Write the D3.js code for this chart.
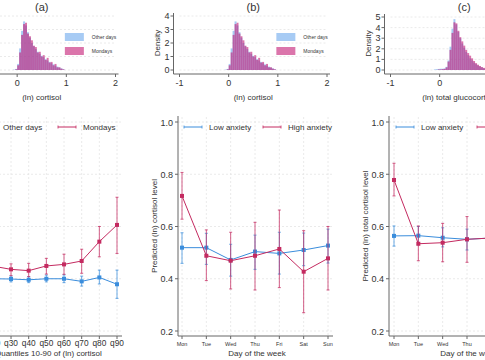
<html>
<head>
<script src="https://d3js.org/d3.v7.min.js"></script>
<style>
  body { margin: 0; background: #fff; }
  text { font-family: "Liberation Sans", Arial, sans-serif; fill: #333; }
  .grid { stroke: #e4e4e4; stroke-width: 0.8; stroke-dasharray: 2,2; }
  .axisline { stroke: #666; stroke-width: 1; }
</style>
</head>
<body>
<svg id="chart" width="485" height="360"></svg>
<script>
// ---- histogram data (bin centres, densities) ----
const cortBins = [-0.06, -0.02, 0.02, 0.06, 0.10, 0.14, 0.18, 0.22, 0.26, 0.30, 0.34, 0.38, 0.42,
                  0.46, 0.50, 0.54, 0.58, 0.62, 0.66, 0.70, 0.74, 0.78, 0.82, 0.86, 0.90, 0.94];
const cortOther = [0.03, 0.08, 0.45, 1.6, 2.9, 3.6, 3.3, 2.8, 2.4, 2.0, 1.75, 1.55, 1.35,
                   1.2, 1.05, 0.95, 0.8, 0.7, 0.6, 0.5, 0.42, 0.32, 0.25, 0.18, 0.12, 0.06];
const cortMon = [0.0, 0.05, 0.35, 1.3, 2.6, 3.4, 3.5, 2.7, 2.5, 2.2, 1.8, 1.7, 1.3,
                 1.35, 1.0, 1.1, 0.75, 0.9, 0.55, 0.6, 0.35, 0.45, 0.2, 0.2, 0.1, 0.05];

const glucBins = [-0.10, -0.06, -0.02, 0.02, 0.06, 0.10, 0.14, 0.18, 0.22, 0.26, 0.30, 0.34, 0.38, 0.42,
                  0.46, 0.50, 0.54, 0.58, 0.62, 0.66, 0.70, 0.74, 0.78, 0.82, 0.86, 0.90, 0.94, 0.98];
const glucOther = [0.05, 0.08, 0.1, 0.12, 0.12, 0.15, 0.3, 0.9, 2.2, 3.9, 4.8, 4.3, 3.6, 3.0,
                   2.5, 2.1, 1.7, 1.4, 1.1, 0.9, 0.7, 0.55, 0.42, 0.32, 0.24, 0.16, 0.1, 0.06];
const glucMon = [0, 0, 0.05, 0.05, 0.08, 0.1, 0.25, 0.8, 1.9, 3.5, 4.5, 4.4, 3.7, 3.1,
                 2.7, 2.3, 1.9, 1.6, 1.35, 1.1, 0.85, 0.65, 0.5, 0.38, 0.28, 0.2, 0.12, 0.07];

// ---- panel (a): quantile estimates ----
const quantiles = ['q10', 'q20', 'q30', 'q40', 'q50', 'q60', 'q70', 'q80', 'q90'];
const aOther   = [0.40, 0.40, 0.399, 0.396, 0.40, 0.40, 0.39, 0.405, 0.379];
const aOtherLo = [0.39, 0.388, 0.388, 0.385, 0.388, 0.385, 0.372, 0.38, 0.325];
const aOtherHi = [0.41, 0.412, 0.41, 0.408, 0.414, 0.415, 0.41, 0.433, 0.433];
const aMon     = [0.46, 0.448, 0.436, 0.431, 0.449, 0.455, 0.468, 0.542, 0.606];
const aMonLo   = [0.43, 0.42, 0.412, 0.408, 0.418, 0.417, 0.421, 0.484, 0.497];
const aMonHi   = [0.49, 0.475, 0.457, 0.459, 0.478, 0.494, 0.513, 0.60, 0.712];

// ---- panels (b) and (c): day of the week ----
const days = ['Mon', 'Tue', 'Wed', 'Thu', 'Fri', 'Sat', 'Sun'];
const bLow    = [0.519, 0.519, 0.472, 0.504, 0.497, 0.51, 0.527];
const bLowLo  = [0.459, 0.455, 0.41, 0.436, 0.418, 0.45, 0.46];
const bLowHi  = [0.576, 0.574, 0.532, 0.567, 0.578, 0.575, 0.59];
const bHigh   = [0.717, 0.488, 0.469, 0.488, 0.514, 0.427, 0.478];
const bHighLo = [0.628, 0.393, 0.361, 0.357, 0.366, 0.27, 0.357];
const bHighHi = [0.807, 0.587, 0.578, 0.616, 0.663, 0.584, 0.60];

const cLow    = [0.564, 0.565, 0.557, 0.551, 0.556, 0.55, 0.555];
const cLowLo  = [0.525, 0.53, 0.522, 0.51, 0.515, 0.51, 0.515];
const cLowHi  = [0.602, 0.60, 0.595, 0.59, 0.597, 0.59, 0.595];
const cHigh   = [0.778, 0.534, 0.538, 0.551, 0.556, 0.52, 0.54];
const cHighLo = [0.717, 0.469, 0.465, 0.463, 0.47, 0.42, 0.45];
const cHighHi = [0.842, 0.602, 0.612, 0.638, 0.64, 0.62, 0.63];

const lineTicks = [0.2, 0.4, 0.6, 0.8, 1.0];

const blue = '#3a8ddc';
const red = '#c42a60';
const histBlue = 'rgba(95,160,235,0.55)';
const histPink = 'rgba(195,25,115,0.6)';

const svg = d3.select('#chart');

// ---------- histograms ----------
function drawHist(xRange, yMax, yRange, bins, other, mon, title, xLabel, showLegend) {
    const g = svg.append('g');
    const x = d3.scaleLinear().domain([-1, 2]).range(xRange);
    const y = d3.scaleLinear().domain([0, yMax]).range(yRange);
    const bw = 0.04;

    // grid
    g.selectAll('line.hgrid')
        .data(d3.range(0, yMax + 1))
        .join('line')
        .attr('class', 'grid')
        .attr('x1', xRange[0]).attr('x2', xRange[1])
        .attr('y1', d => y(d)).attr('y2', d => y(d));

    [[other, histBlue], [mon, histPink]].forEach(([vals, col]) => {
        g.selectAll(null)
            .data(vals)
            .join('rect')
            .attr('x', (d, i) => x(bins[i] - bw / 2))
            .attr('width', (d, i) => x(bins[i] + bw / 2) - x(bins[i] - bw / 2))
            .attr('y', d => y(d))
            .attr('height', d => y(0) - y(d))
            .attr('fill', col);
    });

    // y axis
    const yAxisX = xRange[0] - 6;
    g.append('line').attr('class', 'axisline')
        .attr('x1', yAxisX).attr('x2', yAxisX)
        .attr('y1', y(yMax) - 3).attr('y2', yRange[0] + 4);
    g.selectAll('line.yt')
        .data(d3.range(0, yMax + 1))
        .join('line').attr('class', 'axisline')
        .attr('x1', yAxisX - 3).attr('x2', yAxisX)
        .attr('y1', d => y(d)).attr('y2', d => y(d));
    g.selectAll('text.yt')
        .data(d3.range(0, yMax + 1))
        .join('text')
        .attr('x', yAxisX - 4).attr('y', d => y(d) + 3)
        .attr('text-anchor', 'end').attr('font-size', 9)
        .text(d => d);
    g.append('text')
        .attr('transform', `translate(${yAxisX - 14},${(y(yMax) + y(0)) / 2}) rotate(-90)`)
        .attr('text-anchor', 'middle').attr('font-size', 8)
        .text('Density');

    // x axis
    const xAxisY = yRange[0] + 4;
    g.append('line').attr('class', 'axisline')
        .attr('x1', yAxisX).attr('x2', xRange[1] + 3)
        .attr('y1', xAxisY).attr('y2', xAxisY);
    g.selectAll('line.xt')
        .data([-1, 0, 1, 2])
        .join('line').attr('class', 'axisline')
        .attr('x1', d => x(d)).attr('x2', d => x(d))
        .attr('y1', xAxisY).attr('y2', xAxisY + 3);
    g.selectAll('text.xt')
        .data([-1, 0, 1, 2])
        .join('text')
        .attr('x', d => x(d)).attr('y', xAxisY + 12)
        .attr('text-anchor', 'middle').attr('font-size', 9)
        .text(d => d);
    g.append('text')
        .attr('x', x(0.5)).attr('y', xAxisY + 26)
        .attr('text-anchor', 'middle').attr('font-size', 8)
        .text(xLabel);
    g.append('text')
        .attr('x', x(0.5)).attr('y', 11)
        .attr('text-anchor', 'middle').attr('font-size', 11)
        .text(title);

    if (showLegend) {
        const lx = x(0.97);
        [['Other days', histBlue, 33], ['Mondays', histPink, 47]].forEach(([lab, col, ly]) => {
            g.append('rect').attr('x', lx).attr('y', ly).attr('width', 19).attr('height', 8).attr('fill', col);
            g.append('text').attr('x', lx + 27).attr('y', ly + 6)
                .attr('font-size', 5).text(lab);
        });
    }
}

const colStep = 211.5;
drawHist([179.5 - colStep, 327 - colStep], 4, [70, 16], cortBins, cortOther, cortMon, '(a)', '(ln) cortisol', true);
drawHist([179.5, 327], 4, [70, 16], cortBins, cortOther, cortMon, '(b)', '(ln) cortisol', true);
drawHist([390.5, 538], 5, [70, 17], glucBins, glucOther, glucMon, '(c)', '(ln) total glucocorticoids', true);

// ---------- line panels ----------
const yLine = d3.scaleLinear().domain([0.2, 1.0]).range([331, 122]);

function drawLines(cats, xRange, axisX, series, legend, xLabel, yLabel, xFont) {
    const g = svg.append('g');
    const x = d3.scalePoint().domain(cats).range(xRange);
    const xAxisY = 336;
    const xEnd = xRange[1] + 5;

    g.selectAll('line.vg').data(cats).join('line').attr('class', 'grid')
        .attr('x1', d => x(d)).attr('x2', d => x(d)).attr('y1', 117).attr('y2', xAxisY);
    g.selectAll('line.hg').data(lineTicks).join('line').attr('class', 'grid')
        .attr('x1', axisX).attr('x2', xEnd).attr('y1', d => yLine(d)).attr('y2', d => yLine(d));

    series.forEach(s => {
        // error bars
        cats.forEach((c, i) => {
            const cx = x(c);
            g.append('line').attr('x1', cx).attr('x2', cx)
                .attr('y1', yLine(s.lo[i])).attr('y2', yLine(s.hi[i]))
                .attr('stroke', s.color).attr('stroke-opacity', 0.75).attr('stroke-width', 1);
            [s.lo[i], s.hi[i]].forEach(v => {
                g.append('line').attr('x1', cx - 1.5).attr('x2', cx + 1.5)
                    .attr('y1', yLine(v)).attr('y2', yLine(v))
                    .attr('stroke', s.color).attr('stroke-opacity', 0.75).attr('stroke-width', 1);
            });
        });
        g.append('path')
            .datum(s.mid)
            .attr('fill', 'none').attr('stroke', s.color).attr('stroke-width', 1)
            .attr('d', d3.line().x((d, i) => x(cats[i])).y(d => yLine(d)));
        g.selectAll(null).data(s.mid).join('rect')
            .attr('x', (d, i) => x(cats[i]) - 2).attr('y', d => yLine(d) - 2)
            .attr('width', 4).attr('height', 4).attr('fill', s.color);
    });

    // y axis
    g.append('line').attr('class', 'axisline')
        .attr('x1', axisX).attr('x2', axisX).attr('y1', 116).attr('y2', xAxisY);
    g.selectAll('line.yt').data(lineTicks).join('line').attr('class', 'axisline')
        .attr('x1', axisX - 3).attr('x2', axisX).attr('y1', d => yLine(d)).attr('y2', d => yLine(d));
    g.selectAll('text.yt').data(lineTicks).join('text')
        .attr('x', axisX - 5).attr('y', d => yLine(d) + 3.5)
        .attr('text-anchor', 'end').attr('font-size', 9)
        .text(d => d3.format('.1f')(d));
    g.append('text')
        .attr('transform', `translate(${axisX - 21},226) rotate(-90)`)
        .attr('text-anchor', 'middle').attr('font-size', 8)
        .text(yLabel);

    // x axis
    g.append('line').attr('class', 'axisline')
        .attr('x1', axisX).attr('x2', xEnd).attr('y1', xAxisY).attr('y2', xAxisY);
    g.selectAll('line.xt').data(cats).join('line').attr('class', 'axisline')
        .attr('x1', d => x(d)).attr('x2', d => x(d)).attr('y1', xAxisY).attr('y2', xAxisY + 3);
    g.selectAll('text.xt').data(cats).join('text')
        .attr('x', d => x(d)).attr('y', xAxisY + 10)
        .attr('text-anchor', 'middle').attr('font-size', xFont)
        .text(d => d);
    g.append('text')
        .attr('x', (xRange[0] + xRange[1]) / 2 + 2).attr('y', 356)
        .attr('text-anchor', 'middle').attr('font-size', 8)
        .text(xLabel);

    // legend
    legend.forEach((l, i) => {
        const col = series[i].color;
        g.append('line').attr('x1', l.x).attr('x2', l.x + 18).attr('y1', 127).attr('y2', 127)
            .attr('stroke', col).attr('stroke-width', 1);
        [l.x, l.x + 18].forEach(px => {
            g.append('line').attr('x1', px).attr('x2', px).attr('y1', 125.5).attr('y2', 128.5)
                .attr('stroke', col).attr('stroke-width', 0.8);
        });
        g.append('text').attr('x', l.x + 25).attr('y', 130)
            .attr('font-size', 8).text(l.label);
    });
}

drawLines(quantiles, [-24.3, 117], -33,
    [{ mid: aOther, lo: aOtherLo, hi: aOtherHi, color: blue },
     { mid: aMon, lo: aMonLo, hi: aMonHi, color: red }],
    [{ x: -22, label: 'Other days' }, { x: 58, label: 'Mondays' }],
    'Quantiles 10-90 of (ln) cortisol', 'Predicted (ln) cortisol level', 8.3);

drawLines(days, [182, 328], 178,
    [{ mid: bLow, lo: bLowLo, hi: bLowHi, color: blue },
     { mid: bHigh, lo: bHighLo, hi: bHighHi, color: red }],
    [{ x: 184, label: 'Low anxiety' }, { x: 263, label: 'High anxiety' }],
    'Day of the week', 'Predicted (ln) cortisol level', 5.5);

drawLines(days, [394, 540], 389,
    [{ mid: cLow, lo: cLowLo, hi: cLowHi, color: blue },
     { mid: cHigh, lo: cHighLo, hi: cHighHi, color: red }],
    [{ x: 396, label: 'Low anxiety' }, { x: 477, label: 'High anxiety' }],
    'Day of the week', 'Predicted (ln) total cortisol level', 5.5);
</script>
</body>
</html>
